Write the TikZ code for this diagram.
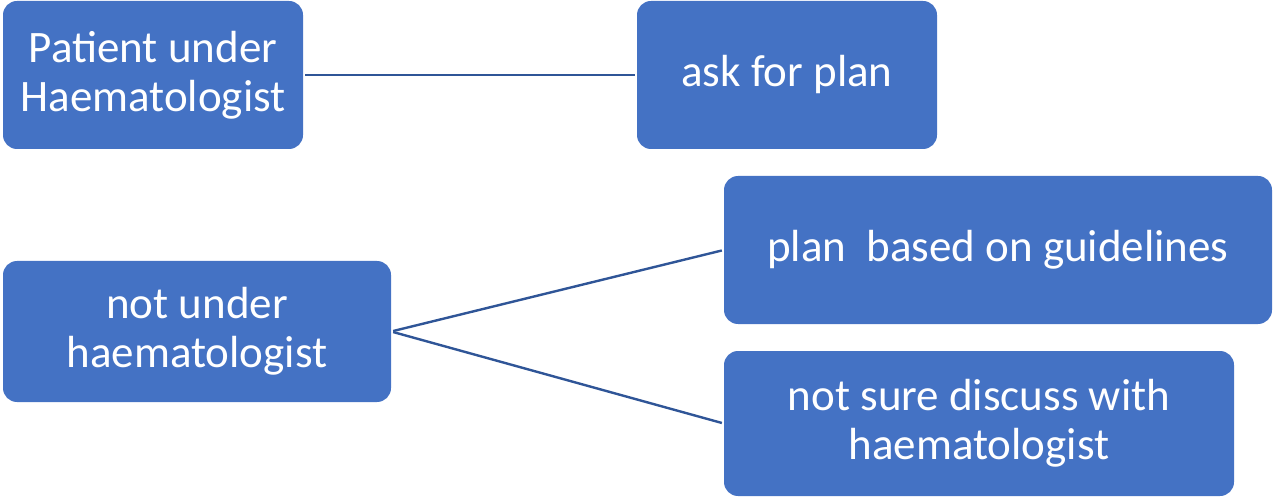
\documentclass[tikz,border=0pt]{standalone}
\usepackage{fontspec}
\setmainfont{Carlito}
\definecolor{boxblue}{HTML}{4472C4}
\definecolor{lineblue}{HTML}{2F5597}
\begin{document}
\begin{tikzpicture}[x=1pt,y=-1pt,
  box/.style={rectangle, rounded corners=14pt, fill=boxblue, text=white,
    align=center, inner sep=0pt, font=\fontsize{45}{49}\selectfont},
  conn/.style={draw=lineblue, line width=2.4pt, shorten <=2pt, shorten >=2pt}]
\useasboundingbox (0,0) rectangle (1275,497);
\node[box, minimum width=300pt, minimum height=148pt] (pat) at (153,75) {Patient under\\Haematologist};
\node[box, minimum width=300pt, minimum height=148pt] (ask) at (787,75) {ask for plan};
\node[box, minimum width=388pt, minimum height=141pt] (not) at (197,331.5) {not under\\haematologist};
\node[box, minimum width=548pt, minimum height=148pt] (plan) at (998,250) {plan\ \ based on guidelines};
\node[box, minimum width=510pt, minimum height=145pt] (sure) at (979,423.5) {not sure discuss with\\haematologist};
\draw[conn] (pat.east) -- (ask.west);
\draw[conn] (not.east) -- (plan.west);
\draw[conn] (not.east) -- (sure.west);
\end{tikzpicture}
\end{document}
